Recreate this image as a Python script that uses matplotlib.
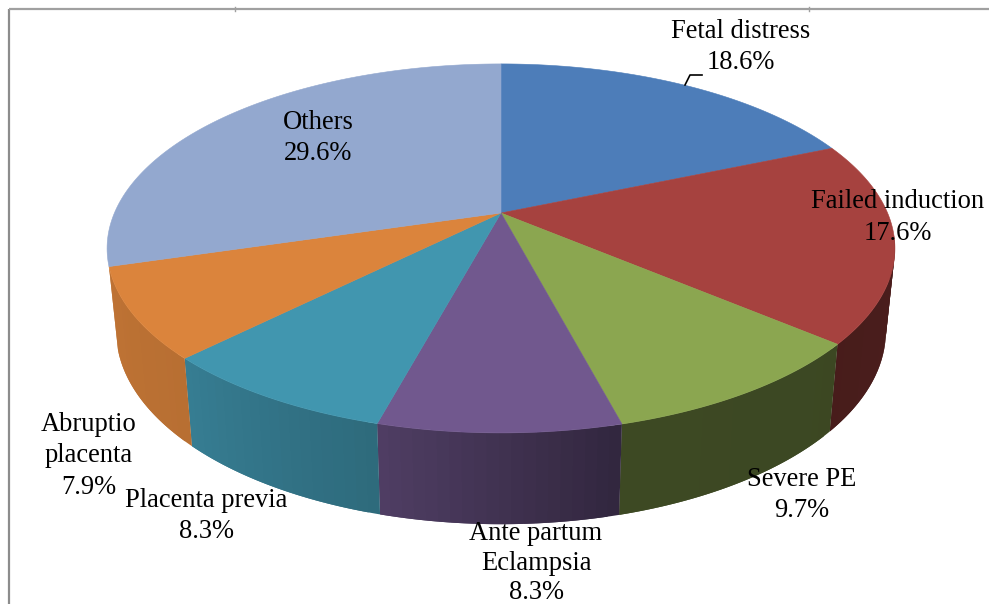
import numpy as np
import matplotlib
matplotlib.use("Agg")
import matplotlib.pyplot as plt

categories = ["Fetal distress", "Failed induction", "Severe PE", "Ante partum\nEclampsia",
              "Placenta previa", "Abruptio\nplacenta", "Others"]
values = [18.6, 17.6, 9.7, 8.3, 8.3, 7.9, 29.6]
colors = ["#4D7DB9", "#A6423F", "#8BA650", "#71588E", "#4196AF", "#DB843C", "#93A8CF"]
label_pos = [(741, 47), (898, 217.5), (802, 495), (536, 563), (206, 516), (89, 456), (318, 138)]
label_spacing = [1.32, 1.32, 1.32, 1.26, 1.32, 1.32, 1.32]

plt.rcParams["font.family"] = ["Liberation Serif", "DejaVu Serif"]
fig = plt.figure(figsize=(9.89, 6.04), dpi=100)
ax = fig.add_axes([0, 0, 1, 1])
ax.set_xlim(0, 989)
ax.set_ylim(604, 0)
ax.axis("off")

PERSP = 0.192
def top_pt(t):
    u, v = np.sin(t), np.cos(t)
    w = 1 + PERSP * v
    return 501 + 386.6 * u / w, 213 - 177.7 * v / w

def bot_pt(t):
    u, v = np.sin(t), np.cos(t)
    w = 1 + PERSP * v
    return 501 + 377.7 * u / w, 294 - 186.0 * v / w

def shade(hex_color, f):
    rgb = np.array(matplotlib.colors.to_rgb(hex_color))
    return tuple(rgb * f)

def side_factor(t):
    return np.interp(np.degrees(t), [90, 130, 165, 195, 225, 253, 290],
                     [.46, .43, .44, .71, .84, .87, .9])

edges = np.radians(np.concatenate([[0], np.cumsum(values)]) * 3.6)

# side wall: each strip runs on under the next one, so no seams show
STEP = np.radians(1.5)
for i, c in enumerate(colors[:-1]):
    ts = np.append(np.arange(edges[i], edges[i + 1], STEP), edges[i + 1])
    for j in range(len(ts) - 1):
        a, b = ts[j], ts[min(j + 2, len(ts) - 1)]
        if np.cos(ts[j]) > -0.1:
            continue
        arc = np.linspace(a, b, 6)
        xt, yt = top_pt(arc)
        xb, yb = bot_pt(arc[::-1])
        ax.fill(np.r_[xt, xb], np.r_[yt, yb], color=shade(c, side_factor(ts[j])),
                lw=0, zorder=2 + 0.001 * i)

# top face
for i, c in enumerate(colors):
    ts = np.linspace(edges[i], edges[i + 1], 120)
    xs, ys = top_pt(ts)
    ax.fill(np.r_[501, xs], np.r_[213, ys], color=c, lw=0.4, zorder=3)

# frame
ax.plot([9, 9], [604, 9], color="#8c8c8c", lw=1.6, zorder=1, solid_capstyle="butt")
ax.plot([9, 989], [9, 9], color="#a0a0a0", lw=1.6, zorder=1, solid_capstyle="butt")
for tx in (235, 809):
    ax.plot([tx, tx], [7, 11], color="#a0a0a0", lw=1, zorder=1)

# labels
for name, v, (x, y), ls in zip(categories, values, label_pos, label_spacing):
    ax.text(x, y, f"{name}\n{v:.1f}%", ha="center", va="center", fontsize=19.1,
            color="black", linespacing=ls, zorder=5, clip_on=False)

# leader line
ax.plot([685, 690, 702], [85, 75, 75], color="black", lw=1.2, zorder=5)

fig.savefig("out.png", dpi=100)
